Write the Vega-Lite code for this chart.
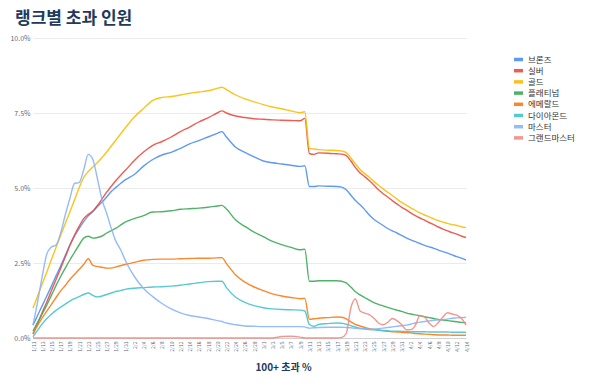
{
"$schema":"https://vega.github.io/schema/vega-lite/v6.json",
"width":433,"height":300,
"autosize":{"type":"none"},
"padding":{"left":33,"top":38,"right":134,"bottom":50},
"background":"#ffffff",
"title":{"text":"랭크별 초과 인원","anchor":"start","frame":"group","dx":-18,"offset":6,"fontSize":17,"fontWeight":"bold","color":"#213a5c","font":"Noto Sans CJK KR"},
"data":{"values":[
{"date":"2020/01/11","브론즈":0.43,"실버":0.13,"골드":0.99,"플래티넘":0.24,"에메랄드":0.16,"다이아몬드":0.04,"마스터":0.43,"그랜드마스터":0},
{"date":"2020/01/12","브론즈":0.75,"실버":0.48,"골드":1.40,"플래티넘":0.52,"에메랄드":0.42,"다이아몬드":0.26,"마스터":1.2,"그랜드마스터":0},
{"date":"2020/01/13","브론즈":1.08,"실버":0.85,"골드":1.80,"플래티넘":0.80,"에메랄드":0.67,"다이아몬드":0.47,"마스터":2.05,"그랜드마스터":0},
{"date":"2020/01/14","브론즈":1.40,"실버":1.20,"골드":2.20,"플래티넘":1.10,"에메랄드":0.90,"다이아몬드":0.65,"마스터":2.8,"그랜드마스터":0},
{"date":"2020/01/15","브론즈":1.73,"실버":1.58,"골드":2.62,"플래티넘":1.42,"에메랄드":1.12,"다이아몬드":0.79,"마스터":3.03,"그랜드마스터":0},
{"date":"2020/01/16","브론즈":2.07,"실버":1.95,"골드":3.02,"플래티넘":1.75,"에메랄드":1.35,"다이아몬드":0.92,"마스터":3.1,"그랜드마스터":0},
{"date":"2020/01/17","브론즈":2.40,"실버":2.32,"골드":3.42,"플래티넘":2.05,"에메랄드":1.57,"다이아몬드":1.03,"마스터":3.5,"그랜드마스터":0},
{"date":"2020/01/18","브론즈":2.75,"실버":2.70,"골드":3.82,"플래티넘":2.33,"에메랄드":1.75,"다이아몬드":1.13,"마스터":4.1,"그랜드마스터":0},
{"date":"2020/01/19","브론즈":3.10,"실버":3.08,"골드":4.20,"플래티넘":2.60,"에메랄드":1.95,"다이아몬드":1.23,"마스터":4.65,"그랜드마스터":0},
{"date":"2020/01/20","브론즈":3.40,"실버":3.42,"골드":4.60,"플래티넘":2.85,"에메랄드":2.12,"다이아몬드":1.31,"마스터":5.15,"그랜드마스터":0},
{"date":"2020/01/21","브론즈":3.65,"실버":3.72,"골드":5.00,"플래티넘":3.10,"에메랄드":2.28,"다이아몬드":1.38,"마스터":5.18,"그랜드마스터":0},
{"date":"2020/01/22","브론즈":3.88,"실버":3.98,"골드":5.35,"플래티넘":3.33,"에메랄드":2.45,"다이아몬드":1.45,"마스터":5.6,"그랜드마스터":0},
{"date":"2020/01/23","브론즈":4.07,"실버":4.12,"골드":5.55,"플래티넘":3.39,"에메랄드":2.64,"다이아몬드":1.50,"마스터":6.12,"그랜드마스터":0},
{"date":"2020/01/24","브론즈":4.22,"실버":4.23,"골드":5.70,"플래티넘":3.33,"에메랄드":2.42,"다이아몬드":1.42,"마스터":5.95,"그랜드마스터":0},
{"date":"2020/01/25","브론즈":4.38,"실버":4.42,"골드":5.85,"플래티넘":3.35,"에메랄드":2.38,"다이아몬드":1.37,"마스터":5.3,"그랜드마스터":0},
{"date":"2020/01/26","브론즈":4.53,"실버":4.64,"골드":6.02,"플래티넘":3.40,"에메랄드":2.36,"다이아몬드":1.40,"마스터":4.6,"그랜드마스터":0},
{"date":"2020/01/27","브론즈":4.70,"실버":4.86,"골드":6.20,"플래티넘":3.50,"에메랄드":2.33,"다이아몬드":1.45,"마스터":4.15,"그랜드마스터":0},
{"date":"2020/01/28","브론즈":4.88,"실버":5.06,"골드":6.40,"플래티넘":3.58,"에메랄드":2.33,"다이아몬드":1.50,"마스터":3.65,"그랜드마스터":0},
{"date":"2020/01/29","브론즈":5.02,"실버":5.25,"골드":6.60,"플래티넘":3.66,"에메랄드":2.37,"다이아몬드":1.55,"마스터":3.22,"그랜드마스터":0},
{"date":"2020/01/30","브론즈":5.15,"실버":5.42,"골드":6.80,"플래티넘":3.76,"에메랄드":2.41,"다이아몬드":1.58,"마스터":2.95,"그랜드마스터":0},
{"date":"2020/01/31","브론즈":5.27,"실버":5.58,"골드":7.00,"플래티넘":3.86,"에메랄드":2.45,"다이아몬드":1.62,"마스터":2.6,"그랜드마스터":0},
{"date":"2020/02/02","브론즈":5.45,"실버":5.92,"골드":7.37,"플래티넘":3.98,"에메랄드":2.52,"다이아몬드":1.66,"마스터":2.05,"그랜드마스터":0},
{"date":"2020/02/04","브론즈":5.73,"실버":6.20,"골드":7.65,"플래티넘":4.08,"에메랄드":2.59,"다이아몬드":1.68,"마스터":1.65,"그랜드마스터":0},
{"date":"2020/02/06","브론즈":5.95,"실버":6.42,"골드":7.92,"플래티넘":4.20,"에메랄드":2.62,"다이아몬드":1.70,"마스터":1.38,"그랜드마스터":0},
{"date":"2020/02/08","브론즈":6.10,"실버":6.55,"골드":8.02,"플래티넘":4.21,"에메랄드":2.63,"다이아몬드":1.71,"마스터":1.15,"그랜드마스터":0},
{"date":"2020/02/10","브론즈":6.19,"실버":6.70,"골드":8.05,"플래티넘":4.24,"에메랄드":2.63,"다이아몬드":1.73,"마스터":0.97,"그랜드마스터":0},
{"date":"2020/02/12","브론즈":6.32,"실버":6.88,"골드":8.10,"플래티넘":4.29,"에메랄드":2.64,"다이아몬드":1.76,"마스터":0.84,"그랜드마스터":0},
{"date":"2020/02/14","브론즈":6.47,"실버":7.03,"골드":8.16,"플래티넘":4.31,"에메랄드":2.65,"다이아몬드":1.80,"마스터":0.75,"그랜드마스터":0},
{"date":"2020/02/16","브론즈":6.58,"실버":7.20,"골드":8.20,"플래티넘":4.33,"에메랄드":2.66,"다이아몬드":1.84,"마스터":0.70,"그랜드마스터":0},
{"date":"2020/02/18","브론즈":6.70,"실버":7.34,"골드":8.24,"플래티넘":4.36,"에메랄드":2.66,"다이아몬드":1.88,"마스터":0.65,"그랜드마스터":0},
{"date":"2020/02/20","브론즈":6.82,"실버":7.50,"골드":8.32,"플래티넘":4.40,"에메랄드":2.67,"다이아몬드":1.89,"마스터":0.58,"그랜드마스터":0},
{"date":"2020/02/21","브론즈":6.88,"실버":7.57,"골드":8.36,"플래티넘":4.42,"에메랄드":2.68,"다이아몬드":1.89,"마스터":0.55,"그랜드마스터":0},
{"date":"2020/02/22","브론즈":6.70,"실버":7.50,"골드":8.28,"플래티넘":4.30,"에메랄드":2.48,"다이아몬드":1.68,"마스터":0.50,"그랜드마스터":0},
{"date":"2020/02/24","브론즈":6.36,"실버":7.40,"골드":8.10,"플래티넘":3.93,"에메랄드":2.10,"다이아몬드":1.36,"마스터":0.44,"그랜드마스터":0},
{"date":"2020/02/26","브론즈":6.19,"실버":7.35,"골드":7.97,"플래티넘":3.72,"에메랄드":1.86,"다이아몬드":1.19,"마스터":0.40,"그랜드마스터":0},
{"date":"2020/02/28","브론즈":6.04,"실버":7.31,"골드":7.87,"플래티넘":3.53,"에메랄드":1.70,"다이아몬드":1.08,"마스터":0.39,"그랜드마스터":0},
{"date":"2020/03/01","브론즈":5.90,"실버":7.29,"골드":7.78,"플래티넘":3.38,"에메랄드":1.58,"다이아몬드":1.01,"마스터":0.38,"그랜드마스터":0},
{"date":"2020/03/03","브론즈":5.84,"실버":7.27,"골드":7.70,"플래티넘":3.22,"에메랄드":1.47,"다이아몬드":0.97,"마스터":0.38,"그랜드마스터":0},
{"date":"2020/03/05","브론즈":5.80,"실버":7.26,"골드":7.64,"플래티넘":3.11,"에메랄드":1.40,"다이아몬드":0.95,"마스터":0.38,"그랜드마스터":0.05},
{"date":"2020/03/07","브론즈":5.76,"실버":7.25,"골드":7.57,"플래티넘":3.02,"에메랄드":1.35,"다이아몬드":0.94,"마스터":0.38,"그랜드마스터":0.06},
{"date":"2020/03/09","브론즈":5.72,"실버":7.24,"골드":7.51,"플래티넘":2.94,"에메랄드":1.31,"다이아몬드":0.93,"마스터":0.38,"그랜드마스터":0.03},
{"date":"2020/03/10","브론즈":5.74,"실버":7.32,"골드":7.54,"플래티넘":2.96,"에메랄드":1.32,"다이아몬드":0.90,"마스터":0.37,"그랜드마스터":0},
{"date":"2020/03/11","브론즈":5.05,"실버":6.15,"골드":6.32,"플래티넘":1.89,"에메랄드":0.62,"다이아몬드":0.45,"마스터":0.33,"그랜드마스터":0},
{"date":"2020/03/12","브론즈":5.05,"실버":6.12,"골드":6.30,"플래티넘":1.89,"에메랄드":0.64,"다이아몬드":0.39,"마스터":0.34,"그랜드마스터":0},
{"date":"2020/03/13","브론즈":5.07,"실버":6.17,"골드":6.28,"플래티넘":1.91,"에메랄드":0.66,"다이아몬드":0.45,"마스터":0.35,"그랜드마스터":0},
{"date":"2020/03/15","브론즈":5.06,"실버":6.16,"골드":6.26,"플래티넘":1.91,"에메랄드":0.68,"다이아몬드":0.48,"마스터":0.36,"그랜드마스터":0},
{"date":"2020/03/17","브론즈":5.05,"실버":6.14,"골드":6.25,"플래티넘":1.91,"에메랄드":0.70,"다이아몬드":0.50,"마스터":0.36,"그랜드마스터":0},
{"date":"2020/03/18","브론즈":5.03,"실버":6.13,"골드":6.23,"플래티넘":1.89,"에메랄드":0.69,"다이아몬드":0.49,"마스터":0.36,"그랜드마스터":0.02},
{"date":"2020/03/19","브론즈":4.94,"실버":6.08,"골드":6.18,"플래티넘":1.84,"에메랄드":0.64,"다이아몬드":0.46,"마스터":0.35,"그랜드마스터":0.15},
{"date":"2020/03/20","브론즈":4.76,"실버":5.90,"골드":6.00,"플래티넘":1.70,"에메랄드":0.54,"다이아몬드":0.41,"마스터":0.34,"그랜드마스터":1.0},
{"date":"2020/03/21","브론즈":4.58,"실버":5.68,"골드":5.80,"플래티넘":1.54,"에메랄드":0.45,"다이아몬드":0.36,"마스터":0.32,"그랜드마스터":1.3},
{"date":"2020/03/22","브론즈":4.44,"실버":5.50,"골드":5.62,"플래티넘":1.44,"에메랄드":0.40,"다이아몬드":0.33,"마스터":0.31,"그랜드마스터":0.9},
{"date":"2020/03/23","브론즈":4.28,"실버":5.38,"골드":5.48,"플래티넘":1.35,"에메랄드":0.35,"다이아몬드":0.30,"마스터":0.30,"그랜드마스터":0.83},
{"date":"2020/03/24","브론즈":4.10,"실버":5.25,"골드":5.36,"플래티넘":1.26,"에메랄드":0.31,"다이아몬드":0.28,"마스터":0.29,"그랜드마스터":0.78},
{"date":"2020/03/25","브론즈":3.96,"실버":5.10,"골드":5.22,"플래티넘":1.18,"에메랄드":0.29,"다이아몬드":0.27,"마스터":0.29,"그랜드마스터":0.66},
{"date":"2020/03/26","브론즈":3.85,"실버":4.94,"골드":5.09,"플래티넘":1.12,"에메랄드":0.27,"다이아몬드":0.26,"마스터":0.31,"그랜드마스터":0.5},
{"date":"2020/03/27","브론즈":3.75,"실버":4.81,"골드":4.97,"플래티넘":1.07,"에메랄드":0.24,"다이아몬드":0.25,"마스터":0.33,"그랜드마스터":0.44},
{"date":"2020/03/28","브론즈":3.65,"실버":4.70,"골드":4.86,"플래티넘":1.02,"에메랄드":0.22,"다이아몬드":0.24,"마스터":0.35,"그랜드마스터":0.52},
{"date":"2020/03/29","브론즈":3.57,"실버":4.58,"골드":4.75,"플래티넘":0.97,"에메랄드":0.21,"다이아몬드":0.23,"마스터":0.37,"그랜드마스터":0.65},
{"date":"2020/03/30","브론즈":3.50,"실버":4.47,"골드":4.63,"플래티넘":0.93,"에메랄드":0.20,"다이아몬드":0.23,"마스터":0.39,"그랜드마스터":0.58},
{"date":"2020/03/31","브론즈":3.42,"실버":4.36,"골드":4.52,"플래티넘":0.89,"에메랄드":0.19,"다이아몬드":0.22,"마스터":0.41,"그랜드마스터":0.45},
{"date":"2020/04/01","브론즈":3.34,"실버":4.27,"골드":4.43,"플래티넘":0.84,"에메랄드":0.18,"다이아몬드":0.22,"마스터":0.43,"그랜드마스터":0.28},
{"date":"2020/04/02","브론즈":3.27,"실버":4.17,"골드":4.34,"플래티넘":0.80,"에메랄드":0.17,"다이아몬드":0.21,"마스터":0.46,"그랜드마스터":0.28},
{"date":"2020/04/03","브론즈":3.21,"실버":4.08,"골드":4.25,"플래티넘":0.77,"에메랄드":0.15,"다이아몬드":0.21,"마스터":0.50,"그랜드마스터":0.42},
{"date":"2020/04/04","브론즈":3.15,"실버":4.00,"골드":4.17,"플래티넘":0.74,"에메랄드":0.14,"다이아몬드":0.21,"마스터":0.53,"그랜드마스터":0.75},
{"date":"2020/04/05","브론즈":3.09,"실버":3.93,"골드":4.10,"플래티넘":0.71,"에메랄드":0.13,"다이아몬드":0.21,"마스터":0.55,"그랜드마스터":0.7},
{"date":"2020/04/06","브론즈":3.04,"실버":3.85,"골드":4.04,"플래티넘":0.68,"에메랄드":0.12,"다이아몬드":0.20,"마스터":0.57,"그랜드마스터":0.5},
{"date":"2020/04/07","브론즈":2.99,"실버":3.78,"골드":3.97,"플래티넘":0.65,"에메랄드":0.11,"다이아몬드":0.20,"마스터":0.59,"그랜드마스터":0.38},
{"date":"2020/04/08","브론즈":2.93,"실버":3.70,"골드":3.91,"플래티넘":0.62,"에메랄드":0.10,"다이아몬드":0.20,"마스터":0.60,"그랜드마스터":0.52},
{"date":"2020/04/09","브론즈":2.88,"실버":3.63,"골드":3.86,"플래티넘":0.60,"에메랄드":0.10,"다이아몬드":0.20,"마스터":0.61,"그랜드마스터":0.7},
{"date":"2020/04/10","브론즈":2.83,"실버":3.57,"골드":3.82,"플래티넘":0.58,"에메랄드":0.10,"다이아몬드":0.20,"마스터":0.63,"그랜드마스터":0.84},
{"date":"2020/04/11","브론즈":2.77,"실버":3.51,"골드":3.78,"플래티넘":0.56,"에메랄드":0.09,"다이아몬드":0.19,"마스터":0.66,"그랜드마스터":0.8},
{"date":"2020/04/12","브론즈":2.71,"실버":3.46,"골드":3.75,"플래티넘":0.54,"에메랄드":0.09,"다이아몬드":0.19,"마스터":0.67,"그랜드마스터":0.76},
{"date":"2020/04/13","브론즈":2.66,"실버":3.40,"골드":3.71,"플래티넘":0.52,"에메랄드":0.09,"다이아몬드":0.19,"마스터":0.68,"그랜드마스터":0.66},
{"date":"2020/04/14","브론즈":2.60,"실버":3.35,"골드":3.68,"플래티넘":0.51,"에메랄드":0.09,"다이아몬드":0.19,"마스터":0.69,"그랜드마스터":0.43}
]},
"transform":[{"fold":["브론즈","실버","골드","플래티넘","에메랄드","다이아몬드","마스터","그랜드마스터"],"as":["rank","pct"]}],
"mark":{"type":"line","interpolate":"monotone","strokeWidth":1.4,"opacity":0.9},
"encoding":{
"x":{"field":"date","type":"temporal",
"scale":{"domain":[{"year":2020,"month":1,"date":11},{"year":2020,"month":4,"date":14}]},
"axis":{"values":[
{"year":2020,"month":1,"date":11},{"year":2020,"month":1,"date":13},{"year":2020,"month":1,"date":15},{"year":2020,"month":1,"date":17},{"year":2020,"month":1,"date":19},{"year":2020,"month":1,"date":21},{"year":2020,"month":1,"date":23},{"year":2020,"month":1,"date":25},{"year":2020,"month":1,"date":27},{"year":2020,"month":1,"date":29},{"year":2020,"month":1,"date":31},
{"year":2020,"month":2,"date":2},{"year":2020,"month":2,"date":4},{"year":2020,"month":2,"date":6},{"year":2020,"month":2,"date":8},{"year":2020,"month":2,"date":10},{"year":2020,"month":2,"date":12},{"year":2020,"month":2,"date":14},{"year":2020,"month":2,"date":16},{"year":2020,"month":2,"date":18},{"year":2020,"month":2,"date":20},{"year":2020,"month":2,"date":22},{"year":2020,"month":2,"date":24},{"year":2020,"month":2,"date":26},{"year":2020,"month":2,"date":28},
{"year":2020,"month":3,"date":1},{"year":2020,"month":3,"date":3},{"year":2020,"month":3,"date":5},{"year":2020,"month":3,"date":7},{"year":2020,"month":3,"date":9},{"year":2020,"month":3,"date":11},{"year":2020,"month":3,"date":13},{"year":2020,"month":3,"date":15},{"year":2020,"month":3,"date":17},{"year":2020,"month":3,"date":19},{"year":2020,"month":3,"date":21},{"year":2020,"month":3,"date":23},{"year":2020,"month":3,"date":25},{"year":2020,"month":3,"date":27},{"year":2020,"month":3,"date":29},{"year":2020,"month":3,"date":31},
{"year":2020,"month":4,"date":2},{"year":2020,"month":4,"date":4},{"year":2020,"month":4,"date":6},{"year":2020,"month":4,"date":8},{"year":2020,"month":4,"date":10},{"year":2020,"month":4,"date":12},{"year":2020,"month":4,"date":14}],
"format":"%-m/%-d","labelAngle":-90,"labelFontSize":5,"labelColor":"#5b6b80","labelOverlap":false,"labelFlush":false,"labelPadding":3,
"ticks":false,"grid":false,"domainColor":"#d0d0d0",
"title":"100+ 초과 %","titleFontSize":10,"titleFontWeight":"bold","titleColor":"#213a5c","titleX":250,"titleY":29,"titleAlign":"center","titleBaseline":"middle"}},
"y":{"field":"pct","type":"quantitative","scale":{"domain":[0,10]},
"axis":{"values":[0,2.5,5,7.5,10],"labelExpr":"format(datum.value,'.1f')+'%'","title":null,"domain":false,"ticks":false,"labelFontSize":7,"labelColor":"#5b6b80","labelPadding":3,"gridColor":"#ebebeb","gridWidth":1}},
"color":{"field":"rank","type":"nominal",
"scale":{"domain":["브론즈","실버","골드","플래티넘","에메랄드","다이아몬드","마스터","그랜드마스터"],"range":["#4f8ff0","#ea4b40","#fbbc05","#3daa58","#fa7b17","#45c4cc","#8ab4f8","#f28b82"]},
"legend":{"orient":"none","legendX":479,"legendY":17,"title":null,"symbolType":"stroke","symbolStrokeWidth":3.5,"symbolSize":81,"labelFontSize":8.5,"labelColor":"#333333","clipHeight":9,"rowPadding":2.2,"labelOffset":3}}
},
"config":{"view":{"stroke":null},"font":"Noto Sans CJK KR"}
}
